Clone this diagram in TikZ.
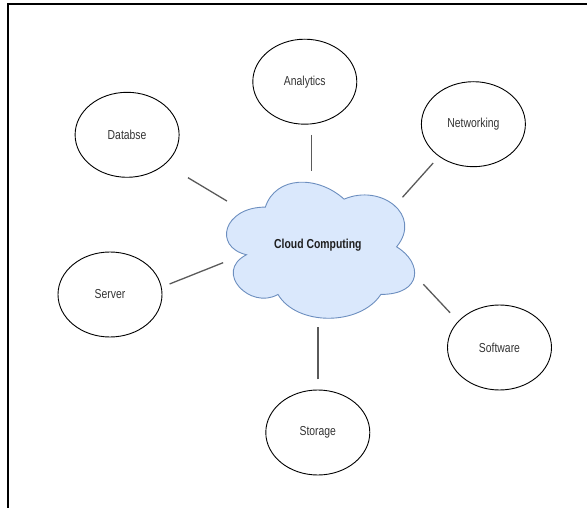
\documentclass[tikz,border=0pt]{standalone}
\usepackage{graphicx}
\usepackage{fontspec}
\setmainfont{Liberation Sans}
\usetikzlibrary{shapes.geometric}
\definecolor{cloudfill}{HTML}{DAE8FC}
\definecolor{cloudline}{HTML}{6C8EBF}
\definecolor{connline}{HTML}{5A5A5A}
\definecolor{txtgray}{HTML}{333333}
\newcommand{\sqtext}[1]{\scalebox{0.8}[1]{#1}}
\tikzset{
  topic/.style={ellipse, draw=black, line width=0.9pt, minimum width=104pt,
    minimum height=85pt, inner sep=0pt, text=txtgray,
    font=\fontsize{13}{15}\selectfont},
  centre/.style={inner sep=0pt, text=black!88,
    font=\fontsize{13}{15}\selectfont\bfseries},
  conn/.style={draw=connline, line width=1.3pt},
  framebar/.style={draw=black, line width=2pt}
}
\begin{document}
\begin{tikzpicture}[x=1pt, y=-1pt]
\useasboundingbox (0,0) rectangle (587,508);
% frame
\coordinate (f1) at (8,508);
\coordinate (f2) at (8,4);
\coordinate (f3) at (587,4);
\draw[framebar] (f1) -- (f2) -- (f3);
% cloud outline (draw.io cloud shape)
\draw[fill=cloudfill, draw=cloudline, line width=0.9pt]
  (265.35,207.1) .. controls (223.35,207.1) and (212.85,246.8) .. (246.45,254.74)
  .. controls (212.85,272.21) and (250.65,310.32) .. (277.95,294.44)
  .. controls (296.85,326.2) and (359.85,326.2) .. (380.85,294.44)
  .. controls (422.85,294.44) and (422.85,262.68) .. (396.6,246.8)
  .. controls (422.85,215.04) and (380.85,183.28) .. (344.1,199.16)
  .. controls (317.85,175.34) and (275.85,175.34) .. (265.35,207.1) -- cycle;
\node[centre] (cloud) at (317.85,245.5) {\sqtext{Cloud Computing}};
% topics
\node[topic] (an)  at (304.8,81.7)  {\sqtext{Analytics}};
\node[topic] (db)  at (127.1,134.8) {\sqtext{Databse}};
\node[topic] (net) at (473.4,124.2) {\sqtext{Networking}};
\node[topic] (srv) at (110,294.5)   {\sqtext{Server}};
\node[topic] (sw)  at (499.5,347.5) {\sqtext{Software}};
\node[topic] (st)  at (317.8,432.5) {\sqtext{Storage}};
% connectors
\draw[conn, shorten <=74.3pt, shorten >=105.6pt]
  ([shift={(-2.85,4.7)}]db.center) -- ([shift={(-0.35,9.8)}]cloud.center);
\draw[conn, shorten <=53.3pt, shorten >=79.3pt]
  ([shift={(6.7,0)}]an.center) -- ([shift={(-6.35,4.5)}]cloud.center);
\draw[conn, shorten <=55.7pt, shorten >=94pt]
  ([shift={(-3.05,-2.7)}]net.center) -- ([shift={(21.95,21.8)}]cloud.center);
\draw[conn, shorten <=59.3pt, shorten >=95.2pt]
  ([shift={(4.5,11.4)}]srv.center) -- ([shift={(-6.25,-18)}]cloud.center);
\draw[conn, shorten <=59.3pt, shorten >=95.5pt]
  ([shift={(-8.9,8.5)}]sw.center) -- ([shift={(40.25,-30.9)}]cloud.center);
\draw[conn, shorten <=53.2pt, shorten >=76.7pt]
  ([shift={(0.1,0)}]st.center) -- ([shift={(0.05,4.5)}]cloud.center);
\end{tikzpicture}
\end{document}
